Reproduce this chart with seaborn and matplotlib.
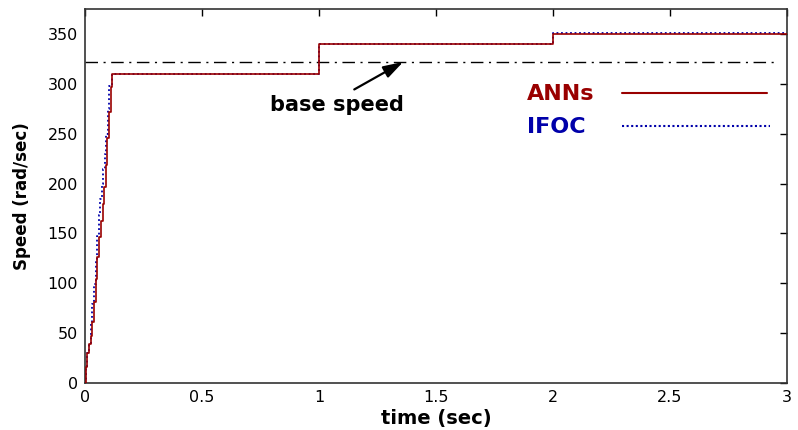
import numpy as np
import pandas as pd
import matplotlib
matplotlib.use("Agg")
import matplotlib.pyplot as plt
import seaborn as sns

# Speed response (rad/sec) versus time (sec), stepwise
time_ann = [0, 0.004, 0.010, 0.018, 0.025, 0.032, 0.039, 0.046, 0.053, 0.060,
            0.068, 0.075, 0.082, 0.089, 0.096, 0.103, 0.110, 0.117, 1.0, 2.0, 3.0]
speed_ann = [0, 16, 30, 39, 47, 61, 81, 104, 126, 146,
             162, 179, 197, 219, 246, 272, 297, 310, 340, 350, 350]

time_ifoc = [0, 0.004, 0.010, 0.018, 0.025, 0.032, 0.039, 0.046, 0.053, 0.060,
             0.066, 0.072, 0.078, 0.084, 0.090, 0.097, 0.104, 0.117, 1.0, 2.0, 3.0]
speed_ifoc = [0, 15, 30, 40, 60, 79, 99, 124, 147, 168,
              185, 200, 215, 230, 250, 275, 298, 310, 340, 351, 351]

base_speed = 322
x_ticks = [0, 0.5, 1, 1.5, 2, 2.5, 3]
x_tick_labels = ["0", "0.5", "1", "1.5", "2", "2.5", "3"]
y_ticks = [0, 50, 100, 150, 200, 250, 300, 350]

ann_df = pd.DataFrame({"time": time_ann, "speed": speed_ann})
ifoc_df = pd.DataFrame({"time": time_ifoc, "speed": speed_ifoc})

sns.set_style("white")
plt.rcParams["font.family"] = ["DejaVu Sans"]
plt.rcParams["text.color"] = "black"
plt.rcParams["axes.labelcolor"] = "black"

red = "#990000"
blue = "#0000aa"

fig = plt.figure(figsize=(7.98, 4.30), dpi=100)
ax = fig.add_axes([0.1065, 0.1093, 0.8797, 0.8697])

sns.lineplot(data=ifoc_df, x="time", y="speed", ax=ax, color=blue,
             linestyle=(0, (1, 1.5)), linewidth=1.3, drawstyle="steps-post",
             estimator=None, zorder=2)
sns.lineplot(data=ann_df, x="time", y="speed", ax=ax, color=red,
             linewidth=1.2, drawstyle="steps-post", estimator=None, zorder=3)

ax.axhline(base_speed, xmin=0, xmax=0.986, color="black", linewidth=1.0,
           linestyle=(0, (9, 4, 1.5, 4)), zorder=1)

ax.annotate("base speed", xy=(1.36, base_speed), xytext=(0.79, 279),
            fontsize=15, fontweight="bold", va="center", ha="left",
            arrowprops=dict(arrowstyle="-|>,head_length=0.8,head_width=0.25",
                            color="black", lw=1.6, shrinkA=3, shrinkB=0,
                            relpos=(0.56, 1.0)))

# Inline legend entries
ax.text(0.630, 0.772, "ANNs", transform=ax.transAxes, color=red,
        fontsize=16, fontweight="bold", va="center", ha="left")
ax.plot([0.7655, 0.9715], [0.775, 0.775], transform=ax.transAxes,
        color=red, linewidth=1.5)
ax.text(0.630, 0.684, "IFOC", transform=ax.transAxes, color=blue,
        fontsize=16, fontweight="bold", va="center", ha="left")
ax.plot([0.7655, 0.9755], [0.686, 0.686], transform=ax.transAxes,
        color=blue, linewidth=1.5, linestyle=(0, (1, 1.2)))

ax.set_xlim(0, 3)
ax.set_ylim(0, 375)
ax.set_xticks(x_ticks)
ax.set_xticklabels(x_tick_labels)
ax.set_yticks(y_ticks)
ax.tick_params(direction="in", length=5, width=1, top=True, right=True,
               labelsize=11.5, colors="black", pad=5)
for spine in ax.spines.values():
    spine.set_color("#333333")
    spine.set_linewidth(1.2)

ax.set_xlabel("time (sec)", fontsize=14, fontweight="bold", labelpad=3)
ax.set_ylabel("Speed (rad/sec)", fontsize=12, fontweight="bold", labelpad=12)

fig.savefig("out.png", dpi=100)
